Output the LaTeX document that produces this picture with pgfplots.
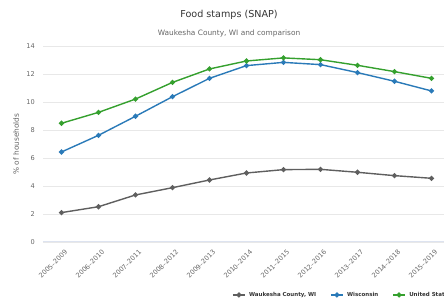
\documentclass[border=0pt]{standalone}
\usepackage{pgfplots}
\pgfplotsset{compat=1.18}
\usepackage{fontspec}
\setmainfont{DejaVu Sans}
\definecolor{cgray}{HTML}{5F5F5F}
\definecolor{cblue}{HTML}{2A7AB8}
\definecolor{cgreen}{HTML}{35A02E}
\definecolor{gridc}{HTML}{E8E8E8}
\definecolor{zeroc}{HTML}{DDE3F0}
\definecolor{txt}{HTML}{666666}
\begin{document}
\begin{tikzpicture}
\useasboundingbox (0pt,0pt) rectangle (444pt,305pt);
\clip (0pt,0pt) rectangle (444pt,305pt);
\node[font=\fontsize{9.6}{11}\selectfont, text=black!80] at (229pt,290pt) {Food stamps (SNAP)};
\node[font=\fontsize{7.4}{9}\selectfont, text=txt] at (229pt,272pt) {Waukesha County, WI and comparison};
\begin{axis}[
  at={(43pt,63pt)}, anchor=south west,
  scale only axis, width=407pt, height=196pt,
  xmin=-0.5, xmax=10.5, ymin=0, ymax=14,
  xtick={0,...,10},
  xticklabels={2005--2009,2006--2010,2007--2011,2008--2012,2009--2013,2010--2014,2011--2015,2012--2016,2013--2017,2014--2018,2015--2019},
  ytick={0,2,...,14},
  /pgf/number format/assume math mode=true,
  ymajorgrids, grid style={draw=gridc, line width=0.8pt},
  axis line style={draw=none},
  tick style={draw=none},
  extra y ticks={0}, extra y tick labels={},
  extra y tick style={grid style={draw=zeroc, line width=1pt}},
  yticklabel style={font=\fontsize{6.6}{8}\selectfont, text=txt, inner sep=0pt, anchor=east, xshift=-8pt},
  xticklabel style={font=\fontsize{6.6}{8}\selectfont, text=txt, inner sep=0pt, rotate=45, anchor=north east, xshift=-3pt, yshift=-7pt},
  ylabel={\% of households},
  every axis y label/.style={at={(axis description cs:-0.0663,0.5)}, rotate=90, anchor=center, font=\fontsize{7.4}{9}\selectfont, text=txt},
  legend columns=3,
  legend style={at={(axis description cs:0.4644,-0.27)}, anchor=west, draw=none, fill=none,
    font=\bfseries\fontsize{5.5}{7}\selectfont, text=black!80, inner sep=0pt,
    /tikz/every odd column/.append style={column sep=1.5pt},
    /tikz/every even column/.append style={column sep=12pt}},
  legend image code/.code={\draw[mark repeat=2, mark phase=2, #1] plot coordinates {(0pt,0pt) (6pt,0pt) (12pt,0pt)};},
  every axis plot/.append style={line width=1.4pt, mark=*, mark size=1.8pt},
]
\addplot[color=cgray] coordinates {(0,2.10) (1,2.52) (2,3.36) (3,3.88) (4,4.43) (5,4.93) (6,5.17) (7,5.19) (8,4.98) (9,4.74) (10,4.55)};
\addlegendentry{Waukesha County, WI}
\addplot[color=cblue] coordinates {(0,6.43) (1,7.62) (2,8.98) (3,10.38) (4,11.69) (5,12.60) (6,12.83) (7,12.67) (8,12.10) (9,11.48) (10,10.79)};
\addlegendentry{Wisconsin}
\addplot[color=cgreen] coordinates {(0,8.48) (1,9.26) (2,10.21) (3,11.40) (4,12.36) (5,12.93) (6,13.15) (7,13.02) (8,12.62) (9,12.17) (10,11.69)};
\addlegendentry{United States}
\end{axis}
\end{tikzpicture}
\end{document}
